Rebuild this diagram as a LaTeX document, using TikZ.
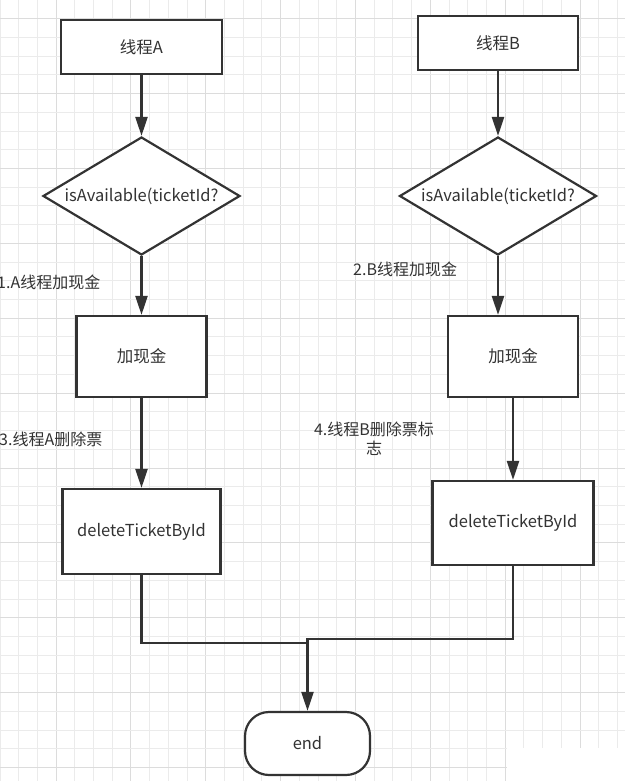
\documentclass[tikz,border=0pt]{standalone}
\usepackage{fontspec}
\setmainfont{Noto Sans CJK SC}
\usetikzlibrary{shapes.geometric,arrows.meta}
\definecolor{ink}{HTML}{333333}
\definecolor{gminor}{HTML}{EBEBEB}
\definecolor{gmajor}{HTML}{DCDCDC}
\tikzset{
  box/.style={draw=ink,line width=2.2pt,fill=white,inner sep=0pt,text=ink,font=\fontsize{16.5}{19}\selectfont},
  dia/.style={draw=ink,line width=2.2pt,fill=white,diamond,aspect=1.67,inner sep=0pt,minimum width=197pt,minimum height=118pt,text=ink,font=\fontsize{16.5}{19}\selectfont},
  lbl/.style={inner sep=0pt,text=ink,font=\fontsize{16}{19}\selectfont},
  conn/.style={draw=ink,line width=2.2pt},
  arr/.style={conn,-{Triangle[width=12pt,length=19pt]}},
}
\begin{document}
\begin{tikzpicture}[x=1pt,y=-1pt]
\useasboundingbox (0,0) rectangle (625,781);
\fill[white] (0,0) rectangle (625,781);
% grid
\foreach \i in {0,...,33}{
  \pgfmathtruncatemacro{\m}{mod(\i,4)}
  \ifnum\m=3 \draw[gmajor,line width=1pt] (\i*18.71,0) -- (\i*18.71,781);
  \else \draw[gminor,line width=1pt] (\i*18.71,0) -- (\i*18.71,781); \fi
}
\foreach \j in {0,...,41}{
  \pgfmathtruncatemacro{\m}{mod(\j,4)}
  \ifnum\m=1 \draw[gmajor,line width=1pt] (0,\j*18.72) -- (625,\j*18.72);
  \else \draw[gminor,line width=1pt] (0,\j*18.72) -- (625,\j*18.72); \fi
}
\fill[white] (507,748) rectangle (625,781);
% left column
\node[box,minimum width=161pt,minimum height=54pt] (ta) at (141.5,47) {线程A};
\node[dia] (da) at (141.5,196) {isAvailable(ticketId?};
\node[box,minimum width=130pt,minimum height=81pt] (ca) at (141.5,356.5) {加现金};
\node[box,minimum width=158pt,minimum height=85pt] (xa) at (141.5,531.5) {deleteTicketById};
% right column
\node[box,minimum width=160pt,minimum height=54pt] (tb) at (498,43) {线程B};
\node[dia] (db) at (498,196) {isAvailable(ticketId?};
\node[box,minimum width=130pt,minimum height=81pt] (cb) at (513,356.5) {加现金};
\node[box,minimum width=161pt,minimum height=84pt] (xb) at (513,523) {deleteTicketById};
% end
\node[box,minimum width=125pt,minimum height=63pt,rounded corners=24pt] (en) at (307.5,743.5) {end};
% labels
\node[lbl,anchor=west] (la1) at (-3,282) {1.A线程加现金};
\node[lbl,anchor=west] (la3) at (-1,439) {3.线程A删除票};
\node[lbl,anchor=west] (lb2) at (353,269) {2.B线程加现金};
\node[lbl,align=center] (lb4) at (374,438.5) {4.线程B删除票标\\志};
% connectors
\draw[arr] (ta) -- (da);
\draw[arr] (da) -- (ca);
\draw[arr] (ca) -- (xa);
\draw[arr] (tb) -- (db);
\draw[arr] (db.south) -- (db.south |- cb.north);
\draw[arr] (cb) -- (xb);
\coordinate (ma) at (307.5,643);
\coordinate (mb) at (307.5,639);
\draw[conn] (xa.south) |- (ma);
\draw[arr] (xb.south) |- (mb) -- (en.north);
\end{tikzpicture}
\end{document}
